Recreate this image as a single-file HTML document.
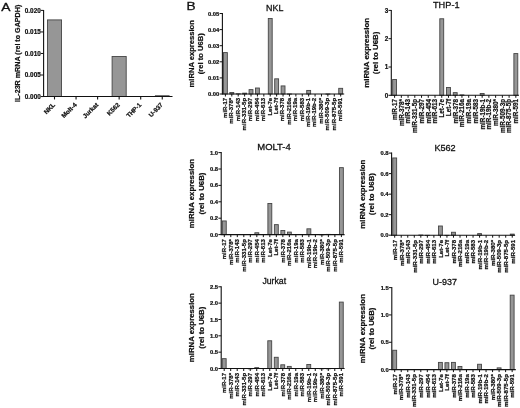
<!DOCTYPE html>
<html><head><meta charset="utf-8"><title>Figure</title>
<style>
html,body{margin:0;padding:0;background:#fff;}
body{width:520px;height:408px;overflow:hidden;}
svg{display:block;filter:blur(0.4px);}
svg text{font-family:"Liberation Sans",Arial,sans-serif;}
</style></head><body>
<svg width="520" height="408" viewBox="0 0 520 408">
<rect width="520" height="408" fill="#fff"/>
<text x="1.20" y="11.20" font-size="11.2" text-anchor="start" stroke="#111" stroke-width="0.3" transform="translate(1.20 0) scale(1.24 1) translate(-1.20 0)" fill="#111">A</text>
<text x="186.40" y="10.40" font-size="11.0" text-anchor="start" stroke="#111" stroke-width="0.3" transform="translate(186.40 0) scale(1.24 1) translate(-186.40 0)" fill="#111">B</text>
<rect x="47.45" y="19.90" width="14.10" height="76.65" fill="#969696" stroke="#454545" stroke-width="0.9"/>
<rect x="112.10" y="56.51" width="14.10" height="40.04" fill="#969696" stroke="#454545" stroke-width="0.9"/>
<line x1="154.95" y1="95.65" x2="169.55" y2="95.65" stroke="#333" stroke-width="0.8"/>
<line x1="43.60" y1="9.90" x2="43.60" y2="97.05" stroke="#111" stroke-width="1.1"/>
<line x1="43.10" y1="96.55" x2="172.50" y2="96.55" stroke="#111" stroke-width="1.1"/>
<line x1="40.80" y1="96.55" x2="43.60" y2="96.55" stroke="#111" stroke-width="1.0"/>
<text x="40.70" y="98.90" font-size="6.35" text-anchor="end" font-weight="bold" stroke="#111" stroke-width="0.22" fill="#111">0.000</text>
<line x1="40.80" y1="75.01" x2="43.60" y2="75.01" stroke="#111" stroke-width="1.0"/>
<text x="40.70" y="77.36" font-size="6.35" text-anchor="end" font-weight="bold" stroke="#111" stroke-width="0.22" fill="#111">0.005</text>
<line x1="40.80" y1="53.48" x2="43.60" y2="53.48" stroke="#111" stroke-width="1.0"/>
<text x="40.70" y="55.83" font-size="6.35" text-anchor="end" font-weight="bold" stroke="#111" stroke-width="0.22" fill="#111">0.010</text>
<line x1="40.80" y1="31.94" x2="43.60" y2="31.94" stroke="#111" stroke-width="1.0"/>
<text x="40.70" y="34.29" font-size="6.35" text-anchor="end" font-weight="bold" stroke="#111" stroke-width="0.22" fill="#111">0.015</text>
<line x1="40.80" y1="10.40" x2="43.60" y2="10.40" stroke="#111" stroke-width="1.0"/>
<text x="40.70" y="12.75" font-size="6.35" text-anchor="end" font-weight="bold" stroke="#111" stroke-width="0.22" fill="#111">0.020</text>
<line x1="54.50" y1="96.55" x2="54.50" y2="99.45" stroke="#111" stroke-width="1.1"/>
<text x="55.60" y="105.25" font-size="6.3" text-anchor="end" font-weight="bold" stroke="#111" stroke-width="0.22" transform="rotate(-45 55.60 105.25)" fill="#111">NKL</text>
<line x1="76.05" y1="96.55" x2="76.05" y2="99.45" stroke="#111" stroke-width="1.1"/>
<text x="77.15" y="105.25" font-size="6.3" text-anchor="end" font-weight="bold" stroke="#111" stroke-width="0.22" transform="rotate(-45 77.15 105.25)" fill="#111">Molt-4</text>
<line x1="97.60" y1="96.55" x2="97.60" y2="99.45" stroke="#111" stroke-width="1.1"/>
<text x="98.70" y="105.25" font-size="6.3" text-anchor="end" font-weight="bold" stroke="#111" stroke-width="0.22" transform="rotate(-45 98.70 105.25)" fill="#111">Jurkat</text>
<line x1="119.15" y1="96.55" x2="119.15" y2="99.45" stroke="#111" stroke-width="1.1"/>
<text x="120.25" y="105.25" font-size="6.3" text-anchor="end" font-weight="bold" stroke="#111" stroke-width="0.22" transform="rotate(-45 120.25 105.25)" fill="#111">K562</text>
<line x1="140.70" y1="96.55" x2="140.70" y2="99.45" stroke="#111" stroke-width="1.1"/>
<text x="141.80" y="105.25" font-size="6.3" text-anchor="end" font-weight="bold" stroke="#111" stroke-width="0.22" transform="rotate(-45 141.80 105.25)" fill="#111">THP-1</text>
<line x1="162.25" y1="96.55" x2="162.25" y2="99.45" stroke="#111" stroke-width="1.1"/>
<text x="163.35" y="105.25" font-size="6.3" text-anchor="end" font-weight="bold" stroke="#111" stroke-width="0.22" transform="rotate(-45 163.35 105.25)" fill="#111">U-937</text>
<text x="20.20" y="53.40" font-size="7.15" text-anchor="middle" font-weight="bold" stroke="#111" stroke-width="0.22" transform="rotate(-90 20.20 53.40)" fill="#111">IL-23R mRNA (rel to GAPDH)</text>
<rect x="223.45" y="52.59" width="3.90" height="41.41" fill="#969696" stroke="#454545" stroke-width="0.9"/>
<rect x="229.85" y="92.52" width="3.90" height="1.48" fill="#969696" stroke="#454545" stroke-width="0.9"/>
<rect x="236.26" y="93.81" width="3.90" height="0.20" fill="#969696" stroke="#454545" stroke-width="0.9"/>
<rect x="242.66" y="93.16" width="3.90" height="0.84" fill="#969696" stroke="#454545" stroke-width="0.9"/>
<rect x="249.07" y="89.62" width="3.90" height="4.38" fill="#969696" stroke="#454545" stroke-width="0.9"/>
<rect x="255.47" y="88.01" width="3.90" height="5.99" fill="#969696" stroke="#454545" stroke-width="0.9"/>
<rect x="268.29" y="18.46" width="3.90" height="75.54" fill="#969696" stroke="#454545" stroke-width="0.9"/>
<rect x="274.69" y="78.83" width="3.90" height="15.17" fill="#969696" stroke="#454545" stroke-width="0.9"/>
<rect x="281.10" y="85.92" width="3.90" height="8.08" fill="#969696" stroke="#454545" stroke-width="0.9"/>
<rect x="287.50" y="93.97" width="3.90" height="0.20" fill="#969696" stroke="#454545" stroke-width="0.9"/>
<rect x="306.72" y="90.42" width="3.90" height="3.58" fill="#969696" stroke="#454545" stroke-width="0.9"/>
<rect x="325.93" y="93.97" width="3.90" height="0.20" fill="#969696" stroke="#454545" stroke-width="0.9"/>
<rect x="338.74" y="88.33" width="3.90" height="5.67" fill="#969696" stroke="#454545" stroke-width="0.9"/>
<line x1="222.40" y1="13.00" x2="222.40" y2="94.50" stroke="#111" stroke-width="1.1"/>
<line x1="221.90" y1="94.00" x2="344.20" y2="94.00" stroke="#111" stroke-width="1.1"/>
<line x1="219.60" y1="94.00" x2="222.40" y2="94.00" stroke="#111" stroke-width="1.0"/>
<text x="219.30" y="96.03" font-size="5.8" text-anchor="end" font-weight="bold" stroke="#111" stroke-width="0.22" fill="#111">0.00</text>
<line x1="219.60" y1="77.90" x2="222.40" y2="77.90" stroke="#111" stroke-width="1.0"/>
<text x="219.30" y="79.93" font-size="5.8" text-anchor="end" font-weight="bold" stroke="#111" stroke-width="0.22" fill="#111">0.01</text>
<line x1="219.60" y1="61.80" x2="222.40" y2="61.80" stroke="#111" stroke-width="1.0"/>
<text x="219.30" y="63.83" font-size="5.8" text-anchor="end" font-weight="bold" stroke="#111" stroke-width="0.22" fill="#111">0.02</text>
<line x1="219.60" y1="45.70" x2="222.40" y2="45.70" stroke="#111" stroke-width="1.0"/>
<text x="219.30" y="47.73" font-size="5.8" text-anchor="end" font-weight="bold" stroke="#111" stroke-width="0.22" fill="#111">0.03</text>
<line x1="219.60" y1="29.60" x2="222.40" y2="29.60" stroke="#111" stroke-width="1.0"/>
<text x="219.30" y="31.63" font-size="5.8" text-anchor="end" font-weight="bold" stroke="#111" stroke-width="0.22" fill="#111">0.04</text>
<line x1="219.60" y1="13.50" x2="222.40" y2="13.50" stroke="#111" stroke-width="1.0"/>
<text x="219.30" y="15.53" font-size="5.8" text-anchor="end" font-weight="bold" stroke="#111" stroke-width="0.22" fill="#111">0.05</text>
<line x1="225.40" y1="94.00" x2="225.40" y2="96.50" stroke="#111" stroke-width="1.0"/>
<text x="226.70" y="97.80" font-size="6.05" text-anchor="end" font-weight="bold" stroke="#111" stroke-width="0.22" transform="rotate(-90 226.70 97.80)" fill="#111">miR-17</text>
<line x1="231.81" y1="94.00" x2="231.81" y2="96.50" stroke="#111" stroke-width="1.0"/>
<text x="233.11" y="97.80" font-size="6.05" text-anchor="end" font-weight="bold" stroke="#111" stroke-width="0.22" transform="rotate(-90 233.11 97.80)" fill="#111">miR-378*</text>
<line x1="238.21" y1="94.00" x2="238.21" y2="96.50" stroke="#111" stroke-width="1.0"/>
<text x="239.51" y="97.80" font-size="6.05" text-anchor="end" font-weight="bold" stroke="#111" stroke-width="0.22" transform="rotate(-90 239.51 97.80)" fill="#111">miR-143</text>
<line x1="244.62" y1="94.00" x2="244.62" y2="96.50" stroke="#111" stroke-width="1.0"/>
<text x="245.92" y="97.80" font-size="6.05" text-anchor="end" font-weight="bold" stroke="#111" stroke-width="0.22" transform="rotate(-90 245.92 97.80)" fill="#111">miR-331-5p</text>
<line x1="251.02" y1="94.00" x2="251.02" y2="96.50" stroke="#111" stroke-width="1.0"/>
<text x="252.32" y="97.80" font-size="6.05" text-anchor="end" font-weight="bold" stroke="#111" stroke-width="0.22" transform="rotate(-90 252.32 97.80)" fill="#111">miR-297</text>
<line x1="257.43" y1="94.00" x2="257.43" y2="96.50" stroke="#111" stroke-width="1.0"/>
<text x="258.73" y="97.80" font-size="6.05" text-anchor="end" font-weight="bold" stroke="#111" stroke-width="0.22" transform="rotate(-90 258.73 97.80)" fill="#111">miR-454</text>
<line x1="263.83" y1="94.00" x2="263.83" y2="96.50" stroke="#111" stroke-width="1.0"/>
<text x="265.13" y="97.80" font-size="6.05" text-anchor="end" font-weight="bold" stroke="#111" stroke-width="0.22" transform="rotate(-90 265.13 97.80)" fill="#111">miR-613</text>
<line x1="270.24" y1="94.00" x2="270.24" y2="96.50" stroke="#111" stroke-width="1.0"/>
<text x="271.54" y="97.80" font-size="6.05" text-anchor="end" font-weight="bold" stroke="#111" stroke-width="0.22" transform="rotate(-90 271.54 97.80)" fill="#111">Let-7e</text>
<line x1="276.64" y1="94.00" x2="276.64" y2="96.50" stroke="#111" stroke-width="1.0"/>
<text x="277.94" y="97.80" font-size="6.05" text-anchor="end" font-weight="bold" stroke="#111" stroke-width="0.22" transform="rotate(-90 277.94 97.80)" fill="#111">Let-7f</text>
<line x1="283.05" y1="94.00" x2="283.05" y2="96.50" stroke="#111" stroke-width="1.0"/>
<text x="284.35" y="97.80" font-size="6.05" text-anchor="end" font-weight="bold" stroke="#111" stroke-width="0.22" transform="rotate(-90 284.35 97.80)" fill="#111">miR-378</text>
<line x1="289.45" y1="94.00" x2="289.45" y2="96.50" stroke="#111" stroke-width="1.0"/>
<text x="290.75" y="97.80" font-size="6.05" text-anchor="end" font-weight="bold" stroke="#111" stroke-width="0.22" transform="rotate(-90 290.75 97.80)" fill="#111">miR-216a</text>
<line x1="295.86" y1="94.00" x2="295.86" y2="96.50" stroke="#111" stroke-width="1.0"/>
<text x="297.16" y="97.80" font-size="6.05" text-anchor="end" font-weight="bold" stroke="#111" stroke-width="0.22" transform="rotate(-90 297.16 97.80)" fill="#111">miR-19a</text>
<line x1="302.26" y1="94.00" x2="302.26" y2="96.50" stroke="#111" stroke-width="1.0"/>
<text x="303.56" y="97.80" font-size="6.05" text-anchor="end" font-weight="bold" stroke="#111" stroke-width="0.22" transform="rotate(-90 303.56 97.80)" fill="#111">miR-583</text>
<line x1="308.67" y1="94.00" x2="308.67" y2="96.50" stroke="#111" stroke-width="1.0"/>
<text x="309.97" y="97.80" font-size="6.05" text-anchor="end" font-weight="bold" stroke="#111" stroke-width="0.22" transform="rotate(-90 309.97 97.80)" fill="#111">miR-19b-1</text>
<line x1="315.07" y1="94.00" x2="315.07" y2="96.50" stroke="#111" stroke-width="1.0"/>
<text x="316.37" y="97.80" font-size="6.05" text-anchor="end" font-weight="bold" stroke="#111" stroke-width="0.22" transform="rotate(-90 316.37 97.80)" fill="#111">miR-19b-2</text>
<line x1="321.48" y1="94.00" x2="321.48" y2="96.50" stroke="#111" stroke-width="1.0"/>
<text x="322.78" y="97.80" font-size="6.05" text-anchor="end" font-weight="bold" stroke="#111" stroke-width="0.22" transform="rotate(-90 322.78 97.80)" fill="#111">miR-380*</text>
<line x1="327.88" y1="94.00" x2="327.88" y2="96.50" stroke="#111" stroke-width="1.0"/>
<text x="329.18" y="97.80" font-size="6.05" text-anchor="end" font-weight="bold" stroke="#111" stroke-width="0.22" transform="rotate(-90 329.18 97.80)" fill="#111">miR-509-3p</text>
<line x1="334.29" y1="94.00" x2="334.29" y2="96.50" stroke="#111" stroke-width="1.0"/>
<text x="335.59" y="97.80" font-size="6.05" text-anchor="end" font-weight="bold" stroke="#111" stroke-width="0.22" transform="rotate(-90 335.59 97.80)" fill="#111">miR-875-5p</text>
<line x1="340.69" y1="94.00" x2="340.69" y2="96.50" stroke="#111" stroke-width="1.0"/>
<text x="341.99" y="97.80" font-size="6.05" text-anchor="end" font-weight="bold" stroke="#111" stroke-width="0.22" transform="rotate(-90 341.99 97.80)" fill="#111">miR-591</text>
<text x="266.10" y="11.20" font-size="8.9" text-anchor="start" stroke="#111" stroke-width="0.3" fill="#111">NKL</text>
<text x="193.90" y="53.75" font-size="7.6" text-anchor="middle" font-weight="bold" stroke="#111" stroke-width="0.22" transform="rotate(-90 193.90 53.75)" fill="#111">miRNA expression</text>
<text x="203.00" y="53.75" font-size="7.6" text-anchor="middle" font-weight="bold" stroke="#111" stroke-width="0.22" transform="rotate(-90 203.00 53.75)" fill="#111">(rel to U6B)</text>
<rect x="392.65" y="79.51" width="3.90" height="15.79" fill="#969696" stroke="#454545" stroke-width="0.9"/>
<rect x="439.80" y="18.77" width="3.90" height="76.53" fill="#969696" stroke="#454545" stroke-width="0.9"/>
<rect x="446.53" y="87.54" width="3.90" height="7.76" fill="#969696" stroke="#454545" stroke-width="0.9"/>
<rect x="453.27" y="92.64" width="3.90" height="2.66" fill="#969696" stroke="#454545" stroke-width="0.9"/>
<rect x="460.00" y="94.90" width="3.90" height="0.40" fill="#969696" stroke="#454545" stroke-width="0.9"/>
<rect x="480.21" y="93.49" width="3.90" height="1.81" fill="#969696" stroke="#454545" stroke-width="0.9"/>
<rect x="513.88" y="53.58" width="3.90" height="41.72" fill="#969696" stroke="#454545" stroke-width="0.9"/>
<line x1="391.30" y1="9.90" x2="391.30" y2="95.80" stroke="#111" stroke-width="1.1"/>
<line x1="390.80" y1="95.30" x2="519.00" y2="95.30" stroke="#111" stroke-width="1.1"/>
<line x1="388.50" y1="95.30" x2="391.30" y2="95.30" stroke="#111" stroke-width="1.0"/>
<text x="388.20" y="97.50" font-size="6.3" text-anchor="end" font-weight="bold" stroke="#111" stroke-width="0.22" fill="#111">0</text>
<line x1="388.50" y1="67.00" x2="391.30" y2="67.00" stroke="#111" stroke-width="1.0"/>
<text x="388.20" y="69.20" font-size="6.3" text-anchor="end" font-weight="bold" stroke="#111" stroke-width="0.22" fill="#111">1</text>
<line x1="388.50" y1="38.70" x2="391.30" y2="38.70" stroke="#111" stroke-width="1.0"/>
<text x="388.20" y="40.91" font-size="6.3" text-anchor="end" font-weight="bold" stroke="#111" stroke-width="0.22" fill="#111">2</text>
<line x1="388.50" y1="10.40" x2="391.30" y2="10.40" stroke="#111" stroke-width="1.0"/>
<text x="388.20" y="12.61" font-size="6.3" text-anchor="end" font-weight="bold" stroke="#111" stroke-width="0.22" fill="#111">3</text>
<line x1="394.60" y1="95.30" x2="394.60" y2="97.80" stroke="#111" stroke-width="1.0"/>
<text x="397.00" y="98.90" font-size="6.35" text-anchor="end" font-weight="bold" stroke="#111" stroke-width="0.22" transform="rotate(-90 397.00 98.90)" fill="#111">miR-17</text>
<line x1="401.34" y1="95.30" x2="401.34" y2="97.80" stroke="#111" stroke-width="1.0"/>
<text x="403.74" y="98.90" font-size="6.35" text-anchor="end" font-weight="bold" stroke="#111" stroke-width="0.22" transform="rotate(-90 403.74 98.90)" fill="#111">miR-378*</text>
<line x1="408.07" y1="95.30" x2="408.07" y2="97.80" stroke="#111" stroke-width="1.0"/>
<text x="410.47" y="98.90" font-size="6.35" text-anchor="end" font-weight="bold" stroke="#111" stroke-width="0.22" transform="rotate(-90 410.47 98.90)" fill="#111">miR-143</text>
<line x1="414.81" y1="95.30" x2="414.81" y2="97.80" stroke="#111" stroke-width="1.0"/>
<text x="417.20" y="98.90" font-size="6.35" text-anchor="end" font-weight="bold" stroke="#111" stroke-width="0.22" transform="rotate(-90 417.20 98.90)" fill="#111">miR-331-5p</text>
<line x1="421.54" y1="95.30" x2="421.54" y2="97.80" stroke="#111" stroke-width="1.0"/>
<text x="423.94" y="98.90" font-size="6.35" text-anchor="end" font-weight="bold" stroke="#111" stroke-width="0.22" transform="rotate(-90 423.94 98.90)" fill="#111">miR-297</text>
<line x1="428.28" y1="95.30" x2="428.28" y2="97.80" stroke="#111" stroke-width="1.0"/>
<text x="430.68" y="98.90" font-size="6.35" text-anchor="end" font-weight="bold" stroke="#111" stroke-width="0.22" transform="rotate(-90 430.68 98.90)" fill="#111">miR-454</text>
<line x1="435.01" y1="95.30" x2="435.01" y2="97.80" stroke="#111" stroke-width="1.0"/>
<text x="437.41" y="98.90" font-size="6.35" text-anchor="end" font-weight="bold" stroke="#111" stroke-width="0.22" transform="rotate(-90 437.41 98.90)" fill="#111">miR-613</text>
<line x1="441.75" y1="95.30" x2="441.75" y2="97.80" stroke="#111" stroke-width="1.0"/>
<text x="444.14" y="98.90" font-size="6.35" text-anchor="end" font-weight="bold" stroke="#111" stroke-width="0.22" transform="rotate(-90 444.14 98.90)" fill="#111">Let-7e</text>
<line x1="448.48" y1="95.30" x2="448.48" y2="97.80" stroke="#111" stroke-width="1.0"/>
<text x="450.88" y="98.90" font-size="6.35" text-anchor="end" font-weight="bold" stroke="#111" stroke-width="0.22" transform="rotate(-90 450.88 98.90)" fill="#111">Let-7f</text>
<line x1="455.22" y1="95.30" x2="455.22" y2="97.80" stroke="#111" stroke-width="1.0"/>
<text x="457.62" y="98.90" font-size="6.35" text-anchor="end" font-weight="bold" stroke="#111" stroke-width="0.22" transform="rotate(-90 457.62 98.90)" fill="#111">miR-378</text>
<line x1="461.95" y1="95.30" x2="461.95" y2="97.80" stroke="#111" stroke-width="1.0"/>
<text x="464.35" y="98.90" font-size="6.35" text-anchor="end" font-weight="bold" stroke="#111" stroke-width="0.22" transform="rotate(-90 464.35 98.90)" fill="#111">miR-216a</text>
<line x1="468.69" y1="95.30" x2="468.69" y2="97.80" stroke="#111" stroke-width="1.0"/>
<text x="471.09" y="98.90" font-size="6.35" text-anchor="end" font-weight="bold" stroke="#111" stroke-width="0.22" transform="rotate(-90 471.09 98.90)" fill="#111">miR-19a</text>
<line x1="475.42" y1="95.30" x2="475.42" y2="97.80" stroke="#111" stroke-width="1.0"/>
<text x="477.82" y="98.90" font-size="6.35" text-anchor="end" font-weight="bold" stroke="#111" stroke-width="0.22" transform="rotate(-90 477.82 98.90)" fill="#111">miR-583</text>
<line x1="482.16" y1="95.30" x2="482.16" y2="97.80" stroke="#111" stroke-width="1.0"/>
<text x="484.56" y="98.90" font-size="6.35" text-anchor="end" font-weight="bold" stroke="#111" stroke-width="0.22" transform="rotate(-90 484.56 98.90)" fill="#111">miR-19b-1</text>
<line x1="488.89" y1="95.30" x2="488.89" y2="97.80" stroke="#111" stroke-width="1.0"/>
<text x="491.29" y="98.90" font-size="6.35" text-anchor="end" font-weight="bold" stroke="#111" stroke-width="0.22" transform="rotate(-90 491.29 98.90)" fill="#111">miR-19b-2</text>
<line x1="495.62" y1="95.30" x2="495.62" y2="97.80" stroke="#111" stroke-width="1.0"/>
<text x="498.02" y="98.90" font-size="6.35" text-anchor="end" font-weight="bold" stroke="#111" stroke-width="0.22" transform="rotate(-90 498.02 98.90)" fill="#111">miR-380*</text>
<line x1="502.36" y1="95.30" x2="502.36" y2="97.80" stroke="#111" stroke-width="1.0"/>
<text x="504.76" y="98.90" font-size="6.35" text-anchor="end" font-weight="bold" stroke="#111" stroke-width="0.22" transform="rotate(-90 504.76 98.90)" fill="#111">miR-509-3p</text>
<line x1="509.10" y1="95.30" x2="509.10" y2="97.80" stroke="#111" stroke-width="1.0"/>
<text x="511.50" y="98.90" font-size="6.35" text-anchor="end" font-weight="bold" stroke="#111" stroke-width="0.22" transform="rotate(-90 511.50 98.90)" fill="#111">miR-875-5p</text>
<line x1="515.83" y1="95.30" x2="515.83" y2="97.80" stroke="#111" stroke-width="1.0"/>
<text x="518.23" y="98.90" font-size="6.35" text-anchor="end" font-weight="bold" stroke="#111" stroke-width="0.22" transform="rotate(-90 518.23 98.90)" fill="#111">miR-591</text>
<text x="433.00" y="7.90" font-size="9.2" text-anchor="start" stroke="#111" stroke-width="0.3" fill="#111">THP-1</text>
<text x="369.00" y="52.85" font-size="7.9" text-anchor="middle" font-weight="bold" stroke="#111" stroke-width="0.22" transform="rotate(-90 369.00 52.85)" fill="#111">miRNA expression</text>
<text x="378.40" y="52.85" font-size="7.9" text-anchor="middle" font-weight="bold" stroke="#111" stroke-width="0.22" transform="rotate(-90 378.40 52.85)" fill="#111">(rel to U6B)</text>
<rect x="222.35" y="220.95" width="3.90" height="13.65" fill="#969696" stroke="#454545" stroke-width="0.9"/>
<rect x="254.87" y="232.75" width="3.90" height="1.85" fill="#969696" stroke="#454545" stroke-width="0.9"/>
<rect x="267.89" y="203.48" width="3.90" height="31.12" fill="#969696" stroke="#454545" stroke-width="0.9"/>
<rect x="274.39" y="224.64" width="3.90" height="9.96" fill="#969696" stroke="#454545" stroke-width="0.9"/>
<rect x="280.90" y="230.46" width="3.90" height="4.14" fill="#969696" stroke="#454545" stroke-width="0.9"/>
<rect x="287.40" y="232.10" width="3.90" height="2.50" fill="#969696" stroke="#454545" stroke-width="0.9"/>
<rect x="306.92" y="228.82" width="3.90" height="5.78" fill="#969696" stroke="#454545" stroke-width="0.9"/>
<rect x="319.93" y="234.64" width="3.90" height="0.20" fill="#969696" stroke="#454545" stroke-width="0.9"/>
<rect x="326.43" y="234.39" width="3.90" height="0.21" fill="#969696" stroke="#454545" stroke-width="0.9"/>
<rect x="339.44" y="167.65" width="3.90" height="66.95" fill="#969696" stroke="#454545" stroke-width="0.9"/>
<line x1="221.20" y1="152.10" x2="221.20" y2="235.10" stroke="#111" stroke-width="1.1"/>
<line x1="220.70" y1="234.60" x2="344.60" y2="234.60" stroke="#111" stroke-width="1.1"/>
<line x1="218.40" y1="234.60" x2="221.20" y2="234.60" stroke="#111" stroke-width="1.0"/>
<text x="218.10" y="236.63" font-size="5.8" text-anchor="end" font-weight="bold" stroke="#111" stroke-width="0.22" fill="#111">0.0</text>
<line x1="218.40" y1="218.20" x2="221.20" y2="218.20" stroke="#111" stroke-width="1.0"/>
<text x="218.10" y="220.23" font-size="5.8" text-anchor="end" font-weight="bold" stroke="#111" stroke-width="0.22" fill="#111">0.2</text>
<line x1="218.40" y1="201.80" x2="221.20" y2="201.80" stroke="#111" stroke-width="1.0"/>
<text x="218.10" y="203.83" font-size="5.8" text-anchor="end" font-weight="bold" stroke="#111" stroke-width="0.22" fill="#111">0.4</text>
<line x1="218.40" y1="185.40" x2="221.20" y2="185.40" stroke="#111" stroke-width="1.0"/>
<text x="218.10" y="187.43" font-size="5.8" text-anchor="end" font-weight="bold" stroke="#111" stroke-width="0.22" fill="#111">0.6</text>
<line x1="218.40" y1="169.00" x2="221.20" y2="169.00" stroke="#111" stroke-width="1.0"/>
<text x="218.10" y="171.03" font-size="5.8" text-anchor="end" font-weight="bold" stroke="#111" stroke-width="0.22" fill="#111">0.8</text>
<line x1="218.40" y1="152.60" x2="221.20" y2="152.60" stroke="#111" stroke-width="1.0"/>
<text x="218.10" y="154.63" font-size="5.8" text-anchor="end" font-weight="bold" stroke="#111" stroke-width="0.22" fill="#111">1.0</text>
<line x1="224.30" y1="234.60" x2="224.30" y2="237.10" stroke="#111" stroke-width="1.0"/>
<text x="226.10" y="239.10" font-size="6.05" text-anchor="end" font-weight="bold" stroke="#111" stroke-width="0.22" transform="rotate(-90 226.10 239.10)" fill="#111">miR-17</text>
<line x1="230.81" y1="234.60" x2="230.81" y2="237.10" stroke="#111" stroke-width="1.0"/>
<text x="232.61" y="239.10" font-size="6.05" text-anchor="end" font-weight="bold" stroke="#111" stroke-width="0.22" transform="rotate(-90 232.61 239.10)" fill="#111">miR-378*</text>
<line x1="237.31" y1="234.60" x2="237.31" y2="237.10" stroke="#111" stroke-width="1.0"/>
<text x="239.11" y="239.10" font-size="6.05" text-anchor="end" font-weight="bold" stroke="#111" stroke-width="0.22" transform="rotate(-90 239.11 239.10)" fill="#111">miR-143</text>
<line x1="243.81" y1="234.60" x2="243.81" y2="237.10" stroke="#111" stroke-width="1.0"/>
<text x="245.62" y="239.10" font-size="6.05" text-anchor="end" font-weight="bold" stroke="#111" stroke-width="0.22" transform="rotate(-90 245.62 239.10)" fill="#111">miR-331-5p</text>
<line x1="250.32" y1="234.60" x2="250.32" y2="237.10" stroke="#111" stroke-width="1.0"/>
<text x="252.12" y="239.10" font-size="6.05" text-anchor="end" font-weight="bold" stroke="#111" stroke-width="0.22" transform="rotate(-90 252.12 239.10)" fill="#111">miR-297</text>
<line x1="256.82" y1="234.60" x2="256.82" y2="237.10" stroke="#111" stroke-width="1.0"/>
<text x="258.62" y="239.10" font-size="6.05" text-anchor="end" font-weight="bold" stroke="#111" stroke-width="0.22" transform="rotate(-90 258.62 239.10)" fill="#111">miR-454</text>
<line x1="263.33" y1="234.60" x2="263.33" y2="237.10" stroke="#111" stroke-width="1.0"/>
<text x="265.13" y="239.10" font-size="6.05" text-anchor="end" font-weight="bold" stroke="#111" stroke-width="0.22" transform="rotate(-90 265.13 239.10)" fill="#111">miR-613</text>
<line x1="269.84" y1="234.60" x2="269.84" y2="237.10" stroke="#111" stroke-width="1.0"/>
<text x="271.64" y="239.10" font-size="6.05" text-anchor="end" font-weight="bold" stroke="#111" stroke-width="0.22" transform="rotate(-90 271.64 239.10)" fill="#111">Let-7e</text>
<line x1="276.34" y1="234.60" x2="276.34" y2="237.10" stroke="#111" stroke-width="1.0"/>
<text x="278.14" y="239.10" font-size="6.05" text-anchor="end" font-weight="bold" stroke="#111" stroke-width="0.22" transform="rotate(-90 278.14 239.10)" fill="#111">Let-7f</text>
<line x1="282.85" y1="234.60" x2="282.85" y2="237.10" stroke="#111" stroke-width="1.0"/>
<text x="284.65" y="239.10" font-size="6.05" text-anchor="end" font-weight="bold" stroke="#111" stroke-width="0.22" transform="rotate(-90 284.65 239.10)" fill="#111">miR-378</text>
<line x1="289.35" y1="234.60" x2="289.35" y2="237.10" stroke="#111" stroke-width="1.0"/>
<text x="291.15" y="239.10" font-size="6.05" text-anchor="end" font-weight="bold" stroke="#111" stroke-width="0.22" transform="rotate(-90 291.15 239.10)" fill="#111">miR-216a</text>
<line x1="295.86" y1="234.60" x2="295.86" y2="237.10" stroke="#111" stroke-width="1.0"/>
<text x="297.66" y="239.10" font-size="6.05" text-anchor="end" font-weight="bold" stroke="#111" stroke-width="0.22" transform="rotate(-90 297.66 239.10)" fill="#111">miR-19a</text>
<line x1="302.36" y1="234.60" x2="302.36" y2="237.10" stroke="#111" stroke-width="1.0"/>
<text x="304.16" y="239.10" font-size="6.05" text-anchor="end" font-weight="bold" stroke="#111" stroke-width="0.22" transform="rotate(-90 304.16 239.10)" fill="#111">miR-583</text>
<line x1="308.87" y1="234.60" x2="308.87" y2="237.10" stroke="#111" stroke-width="1.0"/>
<text x="310.67" y="239.10" font-size="6.05" text-anchor="end" font-weight="bold" stroke="#111" stroke-width="0.22" transform="rotate(-90 310.67 239.10)" fill="#111">miR-19b-1</text>
<line x1="315.37" y1="234.60" x2="315.37" y2="237.10" stroke="#111" stroke-width="1.0"/>
<text x="317.17" y="239.10" font-size="6.05" text-anchor="end" font-weight="bold" stroke="#111" stroke-width="0.22" transform="rotate(-90 317.17 239.10)" fill="#111">miR-19b-2</text>
<line x1="321.88" y1="234.60" x2="321.88" y2="237.10" stroke="#111" stroke-width="1.0"/>
<text x="323.68" y="239.10" font-size="6.05" text-anchor="end" font-weight="bold" stroke="#111" stroke-width="0.22" transform="rotate(-90 323.68 239.10)" fill="#111">miR-380*</text>
<line x1="328.38" y1="234.60" x2="328.38" y2="237.10" stroke="#111" stroke-width="1.0"/>
<text x="330.18" y="239.10" font-size="6.05" text-anchor="end" font-weight="bold" stroke="#111" stroke-width="0.22" transform="rotate(-90 330.18 239.10)" fill="#111">miR-509-3p</text>
<line x1="334.88" y1="234.60" x2="334.88" y2="237.10" stroke="#111" stroke-width="1.0"/>
<text x="336.69" y="239.10" font-size="6.05" text-anchor="end" font-weight="bold" stroke="#111" stroke-width="0.22" transform="rotate(-90 336.69 239.10)" fill="#111">miR-875-5p</text>
<line x1="341.39" y1="234.60" x2="341.39" y2="237.10" stroke="#111" stroke-width="1.0"/>
<text x="343.19" y="239.10" font-size="6.05" text-anchor="end" font-weight="bold" stroke="#111" stroke-width="0.22" transform="rotate(-90 343.19 239.10)" fill="#111">miR-591</text>
<text x="257.30" y="150.40" font-size="9.45" text-anchor="start" stroke="#111" stroke-width="0.3" fill="#111">MOLT-4</text>
<text x="193.90" y="193.60" font-size="7.8" text-anchor="middle" font-weight="bold" stroke="#111" stroke-width="0.22" transform="rotate(-90 193.90 193.60)" fill="#111">miRNA expression</text>
<text x="203.60" y="193.60" font-size="7.8" text-anchor="middle" font-weight="bold" stroke="#111" stroke-width="0.22" transform="rotate(-90 203.60 193.60)" fill="#111">(rel to U6B)</text>
<rect x="392.75" y="157.96" width="3.90" height="77.24" fill="#969696" stroke="#454545" stroke-width="0.9"/>
<rect x="418.87" y="235.03" width="3.90" height="0.20" fill="#969696" stroke="#454545" stroke-width="0.9"/>
<rect x="425.40" y="235.34" width="3.90" height="0.20" fill="#969696" stroke="#454545" stroke-width="0.9"/>
<rect x="438.46" y="226.00" width="3.90" height="9.20" fill="#969696" stroke="#454545" stroke-width="0.9"/>
<rect x="444.99" y="235.34" width="3.90" height="0.20" fill="#969696" stroke="#454545" stroke-width="0.9"/>
<rect x="451.52" y="232.26" width="3.90" height="2.94" fill="#969696" stroke="#454545" stroke-width="0.9"/>
<rect x="477.64" y="233.60" width="3.90" height="1.60" fill="#969696" stroke="#454545" stroke-width="0.9"/>
<rect x="510.29" y="234.11" width="3.90" height="1.09" fill="#969696" stroke="#454545" stroke-width="0.9"/>
<line x1="391.60" y1="152.60" x2="391.60" y2="235.70" stroke="#111" stroke-width="1.1"/>
<line x1="391.10" y1="235.20" x2="515.10" y2="235.20" stroke="#111" stroke-width="1.1"/>
<line x1="388.80" y1="235.20" x2="391.60" y2="235.20" stroke="#111" stroke-width="1.0"/>
<text x="388.50" y="237.23" font-size="5.8" text-anchor="end" font-weight="bold" stroke="#111" stroke-width="0.22" fill="#111">0.0</text>
<line x1="388.80" y1="214.67" x2="391.60" y2="214.67" stroke="#111" stroke-width="1.0"/>
<text x="388.50" y="216.70" font-size="5.8" text-anchor="end" font-weight="bold" stroke="#111" stroke-width="0.22" fill="#111">0.2</text>
<line x1="388.80" y1="194.15" x2="391.60" y2="194.15" stroke="#111" stroke-width="1.0"/>
<text x="388.50" y="196.18" font-size="5.8" text-anchor="end" font-weight="bold" stroke="#111" stroke-width="0.22" fill="#111">0.4</text>
<line x1="388.80" y1="173.62" x2="391.60" y2="173.62" stroke="#111" stroke-width="1.0"/>
<text x="388.50" y="175.66" font-size="5.8" text-anchor="end" font-weight="bold" stroke="#111" stroke-width="0.22" fill="#111">0.6</text>
<line x1="388.80" y1="153.10" x2="391.60" y2="153.10" stroke="#111" stroke-width="1.0"/>
<text x="388.50" y="155.13" font-size="5.8" text-anchor="end" font-weight="bold" stroke="#111" stroke-width="0.22" fill="#111">0.8</text>
<line x1="394.70" y1="235.20" x2="394.70" y2="237.70" stroke="#111" stroke-width="1.0"/>
<text x="397.00" y="239.90" font-size="6.1" text-anchor="end" font-weight="bold" stroke="#111" stroke-width="0.22" transform="rotate(-90 397.00 239.90)" fill="#111">miR-17</text>
<line x1="401.23" y1="235.20" x2="401.23" y2="237.70" stroke="#111" stroke-width="1.0"/>
<text x="403.53" y="239.90" font-size="6.1" text-anchor="end" font-weight="bold" stroke="#111" stroke-width="0.22" transform="rotate(-90 403.53 239.90)" fill="#111">miR-378*</text>
<line x1="407.76" y1="235.20" x2="407.76" y2="237.70" stroke="#111" stroke-width="1.0"/>
<text x="410.06" y="239.90" font-size="6.1" text-anchor="end" font-weight="bold" stroke="#111" stroke-width="0.22" transform="rotate(-90 410.06 239.90)" fill="#111">miR-143</text>
<line x1="414.29" y1="235.20" x2="414.29" y2="237.70" stroke="#111" stroke-width="1.0"/>
<text x="416.59" y="239.90" font-size="6.1" text-anchor="end" font-weight="bold" stroke="#111" stroke-width="0.22" transform="rotate(-90 416.59 239.90)" fill="#111">miR-331-5p</text>
<line x1="420.82" y1="235.20" x2="420.82" y2="237.70" stroke="#111" stroke-width="1.0"/>
<text x="423.12" y="239.90" font-size="6.1" text-anchor="end" font-weight="bold" stroke="#111" stroke-width="0.22" transform="rotate(-90 423.12 239.90)" fill="#111">miR-297</text>
<line x1="427.35" y1="235.20" x2="427.35" y2="237.70" stroke="#111" stroke-width="1.0"/>
<text x="429.65" y="239.90" font-size="6.1" text-anchor="end" font-weight="bold" stroke="#111" stroke-width="0.22" transform="rotate(-90 429.65 239.90)" fill="#111">miR-454</text>
<line x1="433.88" y1="235.20" x2="433.88" y2="237.70" stroke="#111" stroke-width="1.0"/>
<text x="436.18" y="239.90" font-size="6.1" text-anchor="end" font-weight="bold" stroke="#111" stroke-width="0.22" transform="rotate(-90 436.18 239.90)" fill="#111">miR-613</text>
<line x1="440.41" y1="235.20" x2="440.41" y2="237.70" stroke="#111" stroke-width="1.0"/>
<text x="442.71" y="239.90" font-size="6.1" text-anchor="end" font-weight="bold" stroke="#111" stroke-width="0.22" transform="rotate(-90 442.71 239.90)" fill="#111">Let-7e</text>
<line x1="446.94" y1="235.20" x2="446.94" y2="237.70" stroke="#111" stroke-width="1.0"/>
<text x="449.24" y="239.90" font-size="6.1" text-anchor="end" font-weight="bold" stroke="#111" stroke-width="0.22" transform="rotate(-90 449.24 239.90)" fill="#111">Let-7f</text>
<line x1="453.47" y1="235.20" x2="453.47" y2="237.70" stroke="#111" stroke-width="1.0"/>
<text x="455.77" y="239.90" font-size="6.1" text-anchor="end" font-weight="bold" stroke="#111" stroke-width="0.22" transform="rotate(-90 455.77 239.90)" fill="#111">miR-378</text>
<line x1="460.00" y1="235.20" x2="460.00" y2="237.70" stroke="#111" stroke-width="1.0"/>
<text x="462.30" y="239.90" font-size="6.1" text-anchor="end" font-weight="bold" stroke="#111" stroke-width="0.22" transform="rotate(-90 462.30 239.90)" fill="#111">miR-216a</text>
<line x1="466.53" y1="235.20" x2="466.53" y2="237.70" stroke="#111" stroke-width="1.0"/>
<text x="468.83" y="239.90" font-size="6.1" text-anchor="end" font-weight="bold" stroke="#111" stroke-width="0.22" transform="rotate(-90 468.83 239.90)" fill="#111">miR-19a</text>
<line x1="473.06" y1="235.20" x2="473.06" y2="237.70" stroke="#111" stroke-width="1.0"/>
<text x="475.36" y="239.90" font-size="6.1" text-anchor="end" font-weight="bold" stroke="#111" stroke-width="0.22" transform="rotate(-90 475.36 239.90)" fill="#111">miR-583</text>
<line x1="479.59" y1="235.20" x2="479.59" y2="237.70" stroke="#111" stroke-width="1.0"/>
<text x="481.89" y="239.90" font-size="6.1" text-anchor="end" font-weight="bold" stroke="#111" stroke-width="0.22" transform="rotate(-90 481.89 239.90)" fill="#111">miR-19b-1</text>
<line x1="486.12" y1="235.20" x2="486.12" y2="237.70" stroke="#111" stroke-width="1.0"/>
<text x="488.42" y="239.90" font-size="6.1" text-anchor="end" font-weight="bold" stroke="#111" stroke-width="0.22" transform="rotate(-90 488.42 239.90)" fill="#111">miR-19b-2</text>
<line x1="492.65" y1="235.20" x2="492.65" y2="237.70" stroke="#111" stroke-width="1.0"/>
<text x="494.95" y="239.90" font-size="6.1" text-anchor="end" font-weight="bold" stroke="#111" stroke-width="0.22" transform="rotate(-90 494.95 239.90)" fill="#111">miR-380*</text>
<line x1="499.18" y1="235.20" x2="499.18" y2="237.70" stroke="#111" stroke-width="1.0"/>
<text x="501.48" y="239.90" font-size="6.1" text-anchor="end" font-weight="bold" stroke="#111" stroke-width="0.22" transform="rotate(-90 501.48 239.90)" fill="#111">miR-509-3p</text>
<line x1="505.71" y1="235.20" x2="505.71" y2="237.70" stroke="#111" stroke-width="1.0"/>
<text x="508.01" y="239.90" font-size="6.1" text-anchor="end" font-weight="bold" stroke="#111" stroke-width="0.22" transform="rotate(-90 508.01 239.90)" fill="#111">miR-875-5p</text>
<line x1="512.24" y1="235.20" x2="512.24" y2="237.70" stroke="#111" stroke-width="1.0"/>
<text x="514.54" y="239.90" font-size="6.1" text-anchor="end" font-weight="bold" stroke="#111" stroke-width="0.22" transform="rotate(-90 514.54 239.90)" fill="#111">miR-591</text>
<text x="434.40" y="150.90" font-size="9.5" text-anchor="start" stroke="#111" stroke-width="0.3" transform="translate(434.40 0) scale(0.96 1) translate(-434.40 0)" fill="#111">K562</text>
<text x="364.60" y="194.15" font-size="7.8" text-anchor="middle" font-weight="bold" stroke="#111" stroke-width="0.22" transform="rotate(-90 364.60 194.15)" fill="#111">miRNA expression</text>
<text x="374.00" y="194.15" font-size="7.8" text-anchor="middle" font-weight="bold" stroke="#111" stroke-width="0.22" transform="rotate(-90 374.00 194.15)" fill="#111">(rel to U6B)</text>
<rect x="222.25" y="358.66" width="3.90" height="9.84" fill="#969696" stroke="#454545" stroke-width="0.9"/>
<rect x="248.27" y="368.69" width="3.90" height="0.20" fill="#969696" stroke="#454545" stroke-width="0.9"/>
<rect x="254.77" y="367.64" width="3.90" height="0.86" fill="#969696" stroke="#454545" stroke-width="0.9"/>
<rect x="267.79" y="340.78" width="3.90" height="27.72" fill="#969696" stroke="#454545" stroke-width="0.9"/>
<rect x="274.29" y="357.28" width="3.90" height="11.22" fill="#969696" stroke="#454545" stroke-width="0.9"/>
<rect x="280.80" y="364.80" width="3.90" height="3.70" fill="#969696" stroke="#454545" stroke-width="0.9"/>
<rect x="287.30" y="366.40" width="3.90" height="2.10" fill="#969696" stroke="#454545" stroke-width="0.9"/>
<rect x="306.81" y="364.54" width="3.90" height="3.96" fill="#969696" stroke="#454545" stroke-width="0.9"/>
<rect x="319.82" y="368.62" width="3.90" height="0.20" fill="#969696" stroke="#454545" stroke-width="0.9"/>
<rect x="326.33" y="368.62" width="3.90" height="0.20" fill="#969696" stroke="#454545" stroke-width="0.9"/>
<rect x="339.34" y="302.09" width="3.90" height="66.41" fill="#969696" stroke="#454545" stroke-width="0.9"/>
<line x1="221.20" y1="286.30" x2="221.20" y2="369.00" stroke="#111" stroke-width="1.1"/>
<line x1="220.70" y1="368.50" x2="344.60" y2="368.50" stroke="#111" stroke-width="1.1"/>
<line x1="218.40" y1="368.50" x2="221.20" y2="368.50" stroke="#111" stroke-width="1.0"/>
<text x="218.10" y="370.53" font-size="5.8" text-anchor="end" font-weight="bold" stroke="#111" stroke-width="0.22" fill="#111">0.0</text>
<line x1="218.40" y1="352.16" x2="221.20" y2="352.16" stroke="#111" stroke-width="1.0"/>
<text x="218.10" y="354.19" font-size="5.8" text-anchor="end" font-weight="bold" stroke="#111" stroke-width="0.22" fill="#111">0.5</text>
<line x1="218.40" y1="335.82" x2="221.20" y2="335.82" stroke="#111" stroke-width="1.0"/>
<text x="218.10" y="337.85" font-size="5.8" text-anchor="end" font-weight="bold" stroke="#111" stroke-width="0.22" fill="#111">1.0</text>
<line x1="218.40" y1="319.48" x2="221.20" y2="319.48" stroke="#111" stroke-width="1.0"/>
<text x="218.10" y="321.51" font-size="5.8" text-anchor="end" font-weight="bold" stroke="#111" stroke-width="0.22" fill="#111">1.5</text>
<line x1="218.40" y1="303.14" x2="221.20" y2="303.14" stroke="#111" stroke-width="1.0"/>
<text x="218.10" y="305.17" font-size="5.8" text-anchor="end" font-weight="bold" stroke="#111" stroke-width="0.22" fill="#111">2.0</text>
<line x1="218.40" y1="286.80" x2="221.20" y2="286.80" stroke="#111" stroke-width="1.0"/>
<text x="218.10" y="288.83" font-size="5.8" text-anchor="end" font-weight="bold" stroke="#111" stroke-width="0.22" fill="#111">2.5</text>
<line x1="224.20" y1="368.50" x2="224.20" y2="371.00" stroke="#111" stroke-width="1.0"/>
<text x="226.20" y="372.90" font-size="6.05" text-anchor="end" font-weight="bold" stroke="#111" stroke-width="0.22" transform="rotate(-90 226.20 372.90)" fill="#111">miR-17</text>
<line x1="230.70" y1="368.50" x2="230.70" y2="371.00" stroke="#111" stroke-width="1.0"/>
<text x="232.70" y="372.90" font-size="6.05" text-anchor="end" font-weight="bold" stroke="#111" stroke-width="0.22" transform="rotate(-90 232.70 372.90)" fill="#111">miR-378*</text>
<line x1="237.21" y1="368.50" x2="237.21" y2="371.00" stroke="#111" stroke-width="1.0"/>
<text x="239.21" y="372.90" font-size="6.05" text-anchor="end" font-weight="bold" stroke="#111" stroke-width="0.22" transform="rotate(-90 239.21 372.90)" fill="#111">miR-143</text>
<line x1="243.71" y1="368.50" x2="243.71" y2="371.00" stroke="#111" stroke-width="1.0"/>
<text x="245.71" y="372.90" font-size="6.05" text-anchor="end" font-weight="bold" stroke="#111" stroke-width="0.22" transform="rotate(-90 245.71 372.90)" fill="#111">miR-331-5p</text>
<line x1="250.22" y1="368.50" x2="250.22" y2="371.00" stroke="#111" stroke-width="1.0"/>
<text x="252.22" y="372.90" font-size="6.05" text-anchor="end" font-weight="bold" stroke="#111" stroke-width="0.22" transform="rotate(-90 252.22 372.90)" fill="#111">miR-297</text>
<line x1="256.72" y1="368.50" x2="256.72" y2="371.00" stroke="#111" stroke-width="1.0"/>
<text x="258.72" y="372.90" font-size="6.05" text-anchor="end" font-weight="bold" stroke="#111" stroke-width="0.22" transform="rotate(-90 258.72 372.90)" fill="#111">miR-454</text>
<line x1="263.23" y1="368.50" x2="263.23" y2="371.00" stroke="#111" stroke-width="1.0"/>
<text x="265.23" y="372.90" font-size="6.05" text-anchor="end" font-weight="bold" stroke="#111" stroke-width="0.22" transform="rotate(-90 265.23 372.90)" fill="#111">miR-613</text>
<line x1="269.74" y1="368.50" x2="269.74" y2="371.00" stroke="#111" stroke-width="1.0"/>
<text x="271.74" y="372.90" font-size="6.05" text-anchor="end" font-weight="bold" stroke="#111" stroke-width="0.22" transform="rotate(-90 271.74 372.90)" fill="#111">Let-7e</text>
<line x1="276.24" y1="368.50" x2="276.24" y2="371.00" stroke="#111" stroke-width="1.0"/>
<text x="278.24" y="372.90" font-size="6.05" text-anchor="end" font-weight="bold" stroke="#111" stroke-width="0.22" transform="rotate(-90 278.24 372.90)" fill="#111">Let-7f</text>
<line x1="282.75" y1="368.50" x2="282.75" y2="371.00" stroke="#111" stroke-width="1.0"/>
<text x="284.75" y="372.90" font-size="6.05" text-anchor="end" font-weight="bold" stroke="#111" stroke-width="0.22" transform="rotate(-90 284.75 372.90)" fill="#111">miR-378</text>
<line x1="289.25" y1="368.50" x2="289.25" y2="371.00" stroke="#111" stroke-width="1.0"/>
<text x="291.25" y="372.90" font-size="6.05" text-anchor="end" font-weight="bold" stroke="#111" stroke-width="0.22" transform="rotate(-90 291.25 372.90)" fill="#111">miR-216a</text>
<line x1="295.75" y1="368.50" x2="295.75" y2="371.00" stroke="#111" stroke-width="1.0"/>
<text x="297.75" y="372.90" font-size="6.05" text-anchor="end" font-weight="bold" stroke="#111" stroke-width="0.22" transform="rotate(-90 297.75 372.90)" fill="#111">miR-19a</text>
<line x1="302.26" y1="368.50" x2="302.26" y2="371.00" stroke="#111" stroke-width="1.0"/>
<text x="304.26" y="372.90" font-size="6.05" text-anchor="end" font-weight="bold" stroke="#111" stroke-width="0.22" transform="rotate(-90 304.26 372.90)" fill="#111">miR-583</text>
<line x1="308.76" y1="368.50" x2="308.76" y2="371.00" stroke="#111" stroke-width="1.0"/>
<text x="310.76" y="372.90" font-size="6.05" text-anchor="end" font-weight="bold" stroke="#111" stroke-width="0.22" transform="rotate(-90 310.76 372.90)" fill="#111">miR-19b-1</text>
<line x1="315.27" y1="368.50" x2="315.27" y2="371.00" stroke="#111" stroke-width="1.0"/>
<text x="317.27" y="372.90" font-size="6.05" text-anchor="end" font-weight="bold" stroke="#111" stroke-width="0.22" transform="rotate(-90 317.27 372.90)" fill="#111">miR-19b-2</text>
<line x1="321.77" y1="368.50" x2="321.77" y2="371.00" stroke="#111" stroke-width="1.0"/>
<text x="323.77" y="372.90" font-size="6.05" text-anchor="end" font-weight="bold" stroke="#111" stroke-width="0.22" transform="rotate(-90 323.77 372.90)" fill="#111">miR-380*</text>
<line x1="328.28" y1="368.50" x2="328.28" y2="371.00" stroke="#111" stroke-width="1.0"/>
<text x="330.28" y="372.90" font-size="6.05" text-anchor="end" font-weight="bold" stroke="#111" stroke-width="0.22" transform="rotate(-90 330.28 372.90)" fill="#111">miR-509-3p</text>
<line x1="334.78" y1="368.50" x2="334.78" y2="371.00" stroke="#111" stroke-width="1.0"/>
<text x="336.78" y="372.90" font-size="6.05" text-anchor="end" font-weight="bold" stroke="#111" stroke-width="0.22" transform="rotate(-90 336.78 372.90)" fill="#111">miR-875-5p</text>
<line x1="341.29" y1="368.50" x2="341.29" y2="371.00" stroke="#111" stroke-width="1.0"/>
<text x="343.29" y="372.90" font-size="6.05" text-anchor="end" font-weight="bold" stroke="#111" stroke-width="0.22" transform="rotate(-90 343.29 372.90)" fill="#111">miR-591</text>
<text x="262.40" y="284.50" font-size="9.5" text-anchor="start" stroke="#111" stroke-width="0.3" transform="translate(262.40 0) scale(0.92 1) translate(-262.40 0)" fill="#111">Jurkat</text>
<text x="193.90" y="327.65" font-size="7.8" text-anchor="middle" font-weight="bold" stroke="#111" stroke-width="0.22" transform="rotate(-90 193.90 327.65)" fill="#111">miRNA expression</text>
<text x="203.60" y="327.65" font-size="7.8" text-anchor="middle" font-weight="bold" stroke="#111" stroke-width="0.22" transform="rotate(-90 203.60 327.65)" fill="#111">(rel to U6B)</text>
<rect x="392.75" y="350.26" width="3.90" height="19.34" fill="#969696" stroke="#454545" stroke-width="0.9"/>
<rect x="438.43" y="362.40" width="3.90" height="7.20" fill="#969696" stroke="#454545" stroke-width="0.9"/>
<rect x="444.95" y="362.72" width="3.90" height="6.88" fill="#969696" stroke="#454545" stroke-width="0.9"/>
<rect x="451.48" y="362.40" width="3.90" height="7.20" fill="#969696" stroke="#454545" stroke-width="0.9"/>
<rect x="458.00" y="366.44" width="3.90" height="3.16" fill="#969696" stroke="#454545" stroke-width="0.9"/>
<rect x="477.57" y="364.26" width="3.90" height="5.34" fill="#969696" stroke="#454545" stroke-width="0.9"/>
<rect x="490.62" y="369.50" width="3.90" height="0.20" fill="#969696" stroke="#454545" stroke-width="0.9"/>
<rect x="497.15" y="367.86" width="3.90" height="1.74" fill="#969696" stroke="#454545" stroke-width="0.9"/>
<rect x="510.20" y="295.16" width="3.90" height="74.44" fill="#969696" stroke="#454545" stroke-width="0.9"/>
<line x1="391.80" y1="287.10" x2="391.80" y2="370.10" stroke="#111" stroke-width="1.1"/>
<line x1="391.30" y1="369.60" x2="515.80" y2="369.60" stroke="#111" stroke-width="1.1"/>
<line x1="389.00" y1="369.60" x2="391.80" y2="369.60" stroke="#111" stroke-width="1.0"/>
<text x="388.70" y="371.63" font-size="5.8" text-anchor="end" font-weight="bold" stroke="#111" stroke-width="0.22" fill="#111">0.0</text>
<line x1="389.00" y1="342.27" x2="391.80" y2="342.27" stroke="#111" stroke-width="1.0"/>
<text x="388.70" y="344.30" font-size="5.8" text-anchor="end" font-weight="bold" stroke="#111" stroke-width="0.22" fill="#111">0.5</text>
<line x1="389.00" y1="314.93" x2="391.80" y2="314.93" stroke="#111" stroke-width="1.0"/>
<text x="388.70" y="316.96" font-size="5.8" text-anchor="end" font-weight="bold" stroke="#111" stroke-width="0.22" fill="#111">1.0</text>
<line x1="389.00" y1="287.60" x2="391.80" y2="287.60" stroke="#111" stroke-width="1.0"/>
<text x="388.70" y="289.63" font-size="5.8" text-anchor="end" font-weight="bold" stroke="#111" stroke-width="0.22" fill="#111">1.5</text>
<line x1="394.70" y1="369.60" x2="394.70" y2="372.10" stroke="#111" stroke-width="1.0"/>
<text x="396.90" y="374.10" font-size="6.1" text-anchor="end" font-weight="bold" stroke="#111" stroke-width="0.22" transform="rotate(-90 396.90 374.10)" fill="#111">miR-17</text>
<line x1="401.22" y1="369.60" x2="401.22" y2="372.10" stroke="#111" stroke-width="1.0"/>
<text x="403.42" y="374.10" font-size="6.1" text-anchor="end" font-weight="bold" stroke="#111" stroke-width="0.22" transform="rotate(-90 403.42 374.10)" fill="#111">miR-378*</text>
<line x1="407.75" y1="369.60" x2="407.75" y2="372.10" stroke="#111" stroke-width="1.0"/>
<text x="409.95" y="374.10" font-size="6.1" text-anchor="end" font-weight="bold" stroke="#111" stroke-width="0.22" transform="rotate(-90 409.95 374.10)" fill="#111">miR-143</text>
<line x1="414.27" y1="369.60" x2="414.27" y2="372.10" stroke="#111" stroke-width="1.0"/>
<text x="416.47" y="374.10" font-size="6.1" text-anchor="end" font-weight="bold" stroke="#111" stroke-width="0.22" transform="rotate(-90 416.47 374.10)" fill="#111">miR-331-5p</text>
<line x1="420.80" y1="369.60" x2="420.80" y2="372.10" stroke="#111" stroke-width="1.0"/>
<text x="423.00" y="374.10" font-size="6.1" text-anchor="end" font-weight="bold" stroke="#111" stroke-width="0.22" transform="rotate(-90 423.00 374.10)" fill="#111">miR-297</text>
<line x1="427.32" y1="369.60" x2="427.32" y2="372.10" stroke="#111" stroke-width="1.0"/>
<text x="429.52" y="374.10" font-size="6.1" text-anchor="end" font-weight="bold" stroke="#111" stroke-width="0.22" transform="rotate(-90 429.52 374.10)" fill="#111">miR-454</text>
<line x1="433.85" y1="369.60" x2="433.85" y2="372.10" stroke="#111" stroke-width="1.0"/>
<text x="436.05" y="374.10" font-size="6.1" text-anchor="end" font-weight="bold" stroke="#111" stroke-width="0.22" transform="rotate(-90 436.05 374.10)" fill="#111">miR-613</text>
<line x1="440.38" y1="369.60" x2="440.38" y2="372.10" stroke="#111" stroke-width="1.0"/>
<text x="442.57" y="374.10" font-size="6.1" text-anchor="end" font-weight="bold" stroke="#111" stroke-width="0.22" transform="rotate(-90 442.57 374.10)" fill="#111">Let-7e</text>
<line x1="446.90" y1="369.60" x2="446.90" y2="372.10" stroke="#111" stroke-width="1.0"/>
<text x="449.10" y="374.10" font-size="6.1" text-anchor="end" font-weight="bold" stroke="#111" stroke-width="0.22" transform="rotate(-90 449.10 374.10)" fill="#111">Let-7f</text>
<line x1="453.43" y1="369.60" x2="453.43" y2="372.10" stroke="#111" stroke-width="1.0"/>
<text x="455.62" y="374.10" font-size="6.1" text-anchor="end" font-weight="bold" stroke="#111" stroke-width="0.22" transform="rotate(-90 455.62 374.10)" fill="#111">miR-378</text>
<line x1="459.95" y1="369.60" x2="459.95" y2="372.10" stroke="#111" stroke-width="1.0"/>
<text x="462.15" y="374.10" font-size="6.1" text-anchor="end" font-weight="bold" stroke="#111" stroke-width="0.22" transform="rotate(-90 462.15 374.10)" fill="#111">miR-216a</text>
<line x1="466.48" y1="369.60" x2="466.48" y2="372.10" stroke="#111" stroke-width="1.0"/>
<text x="468.68" y="374.10" font-size="6.1" text-anchor="end" font-weight="bold" stroke="#111" stroke-width="0.22" transform="rotate(-90 468.68 374.10)" fill="#111">miR-19a</text>
<line x1="473.00" y1="369.60" x2="473.00" y2="372.10" stroke="#111" stroke-width="1.0"/>
<text x="475.20" y="374.10" font-size="6.1" text-anchor="end" font-weight="bold" stroke="#111" stroke-width="0.22" transform="rotate(-90 475.20 374.10)" fill="#111">miR-583</text>
<line x1="479.52" y1="369.60" x2="479.52" y2="372.10" stroke="#111" stroke-width="1.0"/>
<text x="481.72" y="374.10" font-size="6.1" text-anchor="end" font-weight="bold" stroke="#111" stroke-width="0.22" transform="rotate(-90 481.72 374.10)" fill="#111">miR-19b-1</text>
<line x1="486.05" y1="369.60" x2="486.05" y2="372.10" stroke="#111" stroke-width="1.0"/>
<text x="488.25" y="374.10" font-size="6.1" text-anchor="end" font-weight="bold" stroke="#111" stroke-width="0.22" transform="rotate(-90 488.25 374.10)" fill="#111">miR-19b-2</text>
<line x1="492.57" y1="369.60" x2="492.57" y2="372.10" stroke="#111" stroke-width="1.0"/>
<text x="494.77" y="374.10" font-size="6.1" text-anchor="end" font-weight="bold" stroke="#111" stroke-width="0.22" transform="rotate(-90 494.77 374.10)" fill="#111">miR-380*</text>
<line x1="499.10" y1="369.60" x2="499.10" y2="372.10" stroke="#111" stroke-width="1.0"/>
<text x="501.30" y="374.10" font-size="6.1" text-anchor="end" font-weight="bold" stroke="#111" stroke-width="0.22" transform="rotate(-90 501.30 374.10)" fill="#111">miR-509-3p</text>
<line x1="505.62" y1="369.60" x2="505.62" y2="372.10" stroke="#111" stroke-width="1.0"/>
<text x="507.82" y="374.10" font-size="6.1" text-anchor="end" font-weight="bold" stroke="#111" stroke-width="0.22" transform="rotate(-90 507.82 374.10)" fill="#111">miR-875-5p</text>
<line x1="512.15" y1="369.60" x2="512.15" y2="372.10" stroke="#111" stroke-width="1.0"/>
<text x="514.35" y="374.10" font-size="6.1" text-anchor="end" font-weight="bold" stroke="#111" stroke-width="0.22" transform="rotate(-90 514.35 374.10)" fill="#111">miR-591</text>
<text x="432.60" y="285.50" font-size="9.5" text-anchor="start" stroke="#111" stroke-width="0.3" transform="translate(432.60 0) scale(0.94 1) translate(-432.60 0)" fill="#111">U-937</text>
<text x="364.60" y="328.60" font-size="7.8" text-anchor="middle" font-weight="bold" stroke="#111" stroke-width="0.22" transform="rotate(-90 364.60 328.60)" fill="#111">miRNA expression</text>
<text x="374.00" y="328.60" font-size="7.8" text-anchor="middle" font-weight="bold" stroke="#111" stroke-width="0.22" transform="rotate(-90 374.00 328.60)" fill="#111">(rel to U6B)</text>
</svg>
</body></html>
